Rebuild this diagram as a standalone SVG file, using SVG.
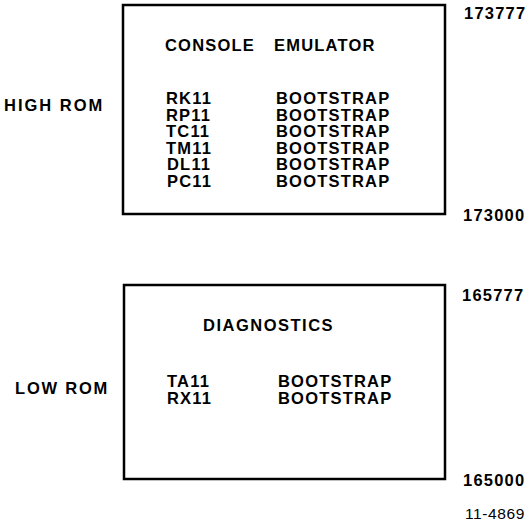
<svg xmlns="http://www.w3.org/2000/svg" width="529" height="524" viewBox="0 0 529 524">
<style>
text{font-family:"Liberation Sans",Arial,sans-serif;font-weight:bold;font-size:16.5px;letter-spacing:1.2px;fill:#000}
.box{fill:none;stroke:#000;stroke-width:2.5}
.sm{font-weight:normal;font-size:15.5px;letter-spacing:0.6px}
</style>
<rect width="529" height="524" fill="#fff"/>
<g id="high-rom">
<rect class="box" x="123" y="5" width="322" height="209"/>
<text x="165" y="51">CONSOLE</text>
<text x="274" y="51">EMULATOR</text>
<text x="166" y="104">RK11</text><text x="276" y="104">BOOTSTRAP</text>
<text x="166" y="120.5">RP11</text><text x="276" y="120.5">BOOTSTRAP</text>
<text x="166" y="137">TC11</text><text x="276" y="137">BOOTSTRAP</text>
<text x="166" y="153.5">TM11</text><text x="276" y="153.5">BOOTSTRAP</text>
<text x="167" y="170">DL11</text><text x="276" y="170">BOOTSTRAP</text>
<text x="167" y="186.5">PC11</text><text x="276" y="186.5">BOOTSTRAP</text>
</g>
<g id="high-rom-label"><text x="4" y="111" style="letter-spacing:2px">HIGH ROM</text></g>
<g id="addr-173777"><text x="464" y="19">173777</text></g>
<g id="addr-173000"><text x="463" y="221">173000</text></g>
<g id="low-rom">
<rect class="box" x="124" y="285" width="321" height="194"/>
<text x="203" y="331" style="letter-spacing:1.5px">DIAGNOSTICS</text>
<text x="167" y="387">TA11</text><text x="278" y="387">BOOTSTRAP</text>
<text x="167" y="404">RX11</text><text x="278" y="404">BOOTSTRAP</text>
</g>
<g id="low-rom-label"><text x="15" y="394" style="letter-spacing:1.8px">LOW ROM</text></g>
<g id="addr-165777"><text x="462" y="301">165777</text></g>
<g id="addr-165000"><text x="463" y="486">165000</text></g>
<g id="fig-no"><text class="sm" x="465" y="519">11-4869</text></g>
<g id="connectors"></g>
</svg>
